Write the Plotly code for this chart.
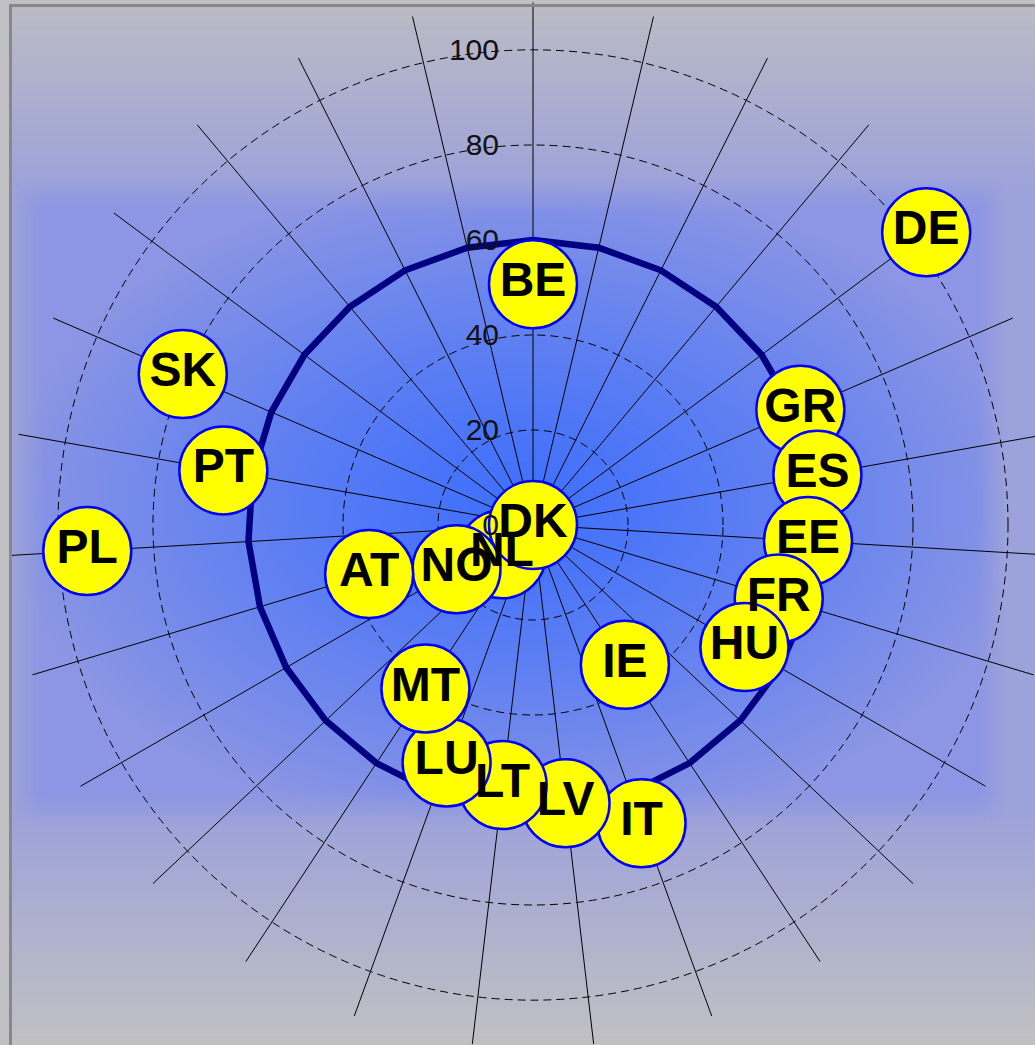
import base64
import struct
import zlib

import numpy as np
import plotly.graph_objects as go

# ---------------- data ----------------
countries = ["BE", "BG", "CY", "CZ", "DE", "GR", "ES", "EE", "FR", "HU",
             "FI", "IE", "IT", "LV", "LT", "LU", "MT", "NL", "NO", "AT",
             "PL", "PT", "SK", "DK", "RO", "SE", "SI"]
values = [50.7, None, None, None, 103.2, 61.3, 60.8, 58.0, 54.0, 51.4,
          None, 35.2, 66.8, 59.0, 55.1, 53.2, 41.2, 9.0, 18.6, 36.0,
          94.0, 66.2, 80.3, 0.0, None, None, None]
labels = [c if v is not None else "" for c, v in zip(countries, values)]
target_level = 60
radial_ticks = [0, 20, 40, 60, 80, 100]
radial_max = 110

# ---------------- page geometry ----------------
W, H = 1060, 1050
CX, CY, RAD = 533, 525, 522.5
FRAME_L, FRAME_T = 10.5, 5.5


# ---------------- background gradient image ----------------
def make_png(arr):
    h, w, _ = arr.shape
    raw = b"".join(b"\x00" + arr[i].tobytes() for i in range(h))

    def chunk(tag, data):
        return (struct.pack(">I", len(data)) + tag + data
                + struct.pack(">I", zlib.crc32(tag + data) & 0xFFFFFFFF))

    return (b"\x89PNG\r\n\x1a\n"
            + chunk(b"IHDR", struct.pack(">IIBBBBB", w, h, 8, 2, 0, 0, 0))
            + chunk(b"IDAT", zlib.compress(raw, 9))
            + chunk(b"IEND", b""))


S = 2
xs = (np.arange(W // S) + 0.5) * S
ys = (np.arange(H // S) + 0.5) * S
X, Y = np.meshgrid(xs, ys)

gray_top = np.array([188, 188, 197.0])
gray_bot = np.array([193, 193, 195.0])
lav = np.array([156, 162, 219.0])
c_center = np.array([64, 112, 252.0])
c_edge = np.array([140, 150, 228.0])

s_top = np.clip((Y - 5) / 190.0, 0, 1)[..., None]
s_bot = np.clip((1045 - Y) / 240.0, 0, 1)[..., None]
outside = np.where(Y[..., None] < 500,
                   gray_top * (1 - s_top) + lav * s_top,
                   gray_bot * (1 - s_bot) + lav * s_bot)

e = np.sqrt(((X - 520) / 510.0) ** 2 + ((Y - 505) / 330.0) ** 2)
t = np.clip(e, 0, 1) ** 1.25
inside = c_center * (1 - t[..., None]) + c_edge * t[..., None]

mx = np.clip((X - 15) / 28.0, 0, 1) * np.clip((1005 - X) / 28.0, 0, 1)
my = np.clip((Y - 178) / 34.0, 0, 1) * np.clip((825 - Y) / 34.0, 0, 1)
m = (mx * my)[..., None]
img = outside * (1 - m) + inside * m
outside_frame = (X < FRAME_L) | (Y < FRAME_T)
img[outside_frame] = np.array([192, 192, 196.0])
img = np.clip(img, 0, 255).astype(np.uint8)
img_src = "data:image/png;base64," + base64.b64encode(make_png(img)).decode()

# ---------------- figure ----------------
fig = go.Figure()

fig.add_trace(go.Scatterpolar(
    r=[target_level] * len(countries) + [target_level],
    theta=countries + [countries[0]],
    mode="lines",
    line=dict(color="#000080", width=6.5),
    hoverinfo="skip",
    showlegend=False,
))

fig.add_trace(go.Scatterpolar(
    r=values,
    theta=countries,
    mode="markers+text",
    text=labels,
    textposition="middle center",
    textfont=dict(family="Liberation Sans, Arial, sans-serif", size=48,
                  color="black", weight="bold"),
    marker=dict(size=88, color="#ffff00",
                line=dict(color="#0000ff", width=2.5)),
    showlegend=False,
))

fig.update_layout(
    width=W,
    height=H,
    margin=dict(l=0, r=0, t=0, b=0),
    paper_bgcolor="#c0c0c4",
    showlegend=False,
    polar=dict(
        domain=dict(x=[(CX - RAD) / W, (CX + RAD) / W],
                    y=[1 - (CY + RAD) / H, 1 - (CY - RAD) / H]),
        bgcolor="rgba(0,0,0,0)",
        angularaxis=dict(
            type="category",
            categoryarray=countries,
            rotation=90,
            direction="clockwise",
            showticklabels=False,
            ticks="",
            showline=False,
            showgrid=True,
            gridcolor="black",
            gridwidth=1,
        ),
        radialaxis=dict(
            range=[0, radial_max],
            tickvals=radial_ticks,
            angle=90,
            side="counterclockwise",
            tickangle=90,
            ticks="outside",
            ticklen=23,
            tickcolor="rgba(0,0,0,0)",
            tickfont=dict(family="Liberation Sans, Arial, sans-serif",
                          size=30, color="#111111"),
            showline=False,
            showgrid=True,
            gridcolor="black",
            gridwidth=1,
            griddash="8px,5px",
        ),
    ),
    images=[dict(source=img_src, xref="paper", yref="paper", x=0, y=1,
                 sizex=1, sizey=1, xanchor="left", yanchor="top",
                 sizing="stretch", layer="below")],
    shapes=[dict(type="rect", xref="paper", yref="paper",
                 x0=FRAME_L / W, x1=1.2, y0=-0.2, y1=1 - FRAME_T / H,
                 line=dict(color="#888888", width=3),
                 fillcolor="rgba(0,0,0,0)", layer="above")],
)

fig.write_html(
    "out.html",
    config={"displayModeBar": False},
    post_script=("document.body.style.margin='0';"
                 "document.body.style.overflow='hidden';"
                 "document.documentElement.style.overflow='hidden';"),
)
